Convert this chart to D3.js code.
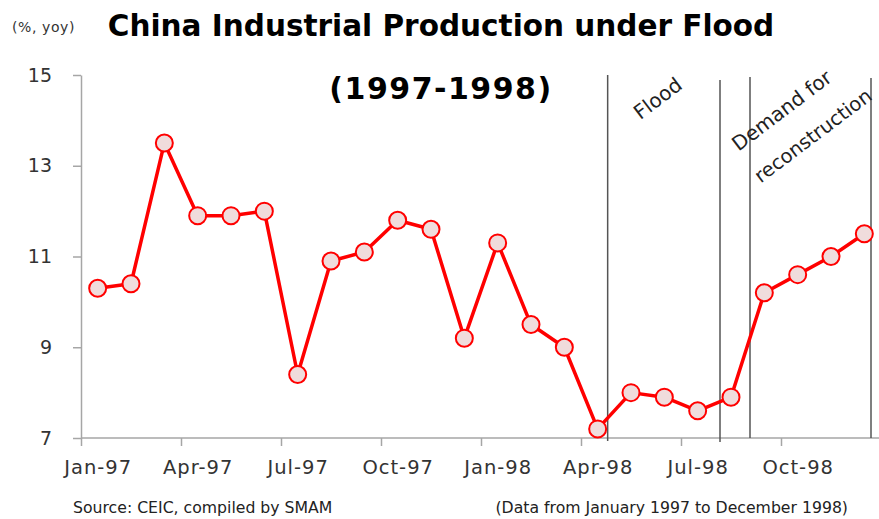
<!DOCTYPE html>
<html>
<head>
<meta charset="utf-8">
<script src="https://cdn.jsdelivr.net/npm/d3@7"></script>
<style>
  body { margin: 0; background: #fff; }
  svg { display: block; font-family: "DejaVu Sans", Verdana, sans-serif; }
</style>
</head>
<body>
<div id="chart"></div>
<script>
(function() {
  var months = ['Jan-97', 'Feb-97', 'Mar-97', 'Apr-97', 'May-97', 'Jun-97',
    'Jul-97', 'Aug-97', 'Sep-97', 'Oct-97', 'Nov-97', 'Dec-97',
    'Jan-98', 'Feb-98', 'Mar-98', 'Apr-98', 'May-98', 'Jun-98',
    'Jul-98', 'Aug-98', 'Sep-98', 'Oct-98', 'Nov-98', 'Dec-98'];
  var values = [10.3, 10.4, 13.5, 11.9, 11.9, 12.0, 8.4, 10.9, 11.1, 11.8, 11.6, 9.2,
    11.3, 9.5, 9.0, 7.2, 8.0, 7.9, 7.6, 7.9, 10.2, 10.6, 11.0, 11.5];
  var yTicks = [7, 9, 11, 13, 15];
  var xTickIdx = [0, 3, 6, 9, 12, 15, 18, 21];
  // period dividers, in month units from Jan-97
  var dividers = [15.8, 19.17, 20.07, 23.7];

  var width = 879, height = 519;
  var svg = d3.select('#chart').append('svg')
    .attr('width', width).attr('height', height);

  var x = d3.scaleLinear().domain([0, 24]).range([81, 881]);
  var y = d3.scaleLinear().domain([7, 15]).range([438, 75]);

  var axisColor = '#a6a6a6';

  // y axis
  var yAxis = svg.append('g')
    .attr('transform', 'translate(81,0)')
    .call(d3.axisLeft(y).tickValues(yTicks).tickSize(8).tickPadding(21).tickSizeOuter(0));
  yAxis.select('.domain').attr('stroke', axisColor).attr('stroke-width', 1.5);
  yAxis.selectAll('.tick line').attr('stroke', axisColor).attr('stroke-width', 1.5);
  yAxis.selectAll('.tick text')
    .attr('font-size', 19).attr('fill', '#333')
    .attr('font-family', '"DejaVu Sans", Verdana, sans-serif');

  // x axis
  var xAxis = svg.append('g')
    .attr('transform', 'translate(0,438)')
    .call(d3.axisBottom(x).tickValues(xTickIdx).tickSize(8).tickSizeOuter(0)
      .tickFormat(function(d) { return months[d]; }).tickPadding(14));
  xAxis.select('.domain').attr('stroke', axisColor).attr('stroke-width', 1.5)
    .attr('d', 'M81,0H879');
  xAxis.selectAll('.tick line').attr('stroke', axisColor).attr('stroke-width', 1.5);
  xAxis.selectAll('.tick text')
    .attr('x', x(0.5) - x(0))
    .attr('font-size', 19.5).attr('fill', '#333')
    .attr('letter-spacing', 1)
    .attr('font-family', '"DejaVu Sans", Verdana, sans-serif');

  // dividers
  svg.append('g').selectAll('line')
    .data(dividers)
    .join('line')
    .attr('x1', function(d) { return x(d); })
    .attr('x2', function(d) { return x(d); })
    .attr('y1', function(d, i) { return [75, 80, 77, 78][i]; })
    .attr('y2', function(d, i) { return [441, 442, 438, 438][i]; })
    .attr('stroke', '#555')
    .attr('stroke-width', 1.5);

  // line + markers
  var line = d3.line()
    .x(function(d, i) { return x(i + 0.5); })
    .y(function(d) { return y(d); });

  svg.append('path')
    .datum(values)
    .attr('d', line)
    .attr('fill', 'none')
    .attr('stroke', '#ff0000')
    .attr('stroke-width', 3.5)
    .attr('stroke-linejoin', 'round');

  svg.append('g').selectAll('circle')
    .data(values)
    .join('circle')
    .attr('cx', function(d, i) { return x(i + 0.5); })
    .attr('cy', function(d) { return y(d); })
    .attr('r', 8.5)
    .attr('fill', '#f0dcdc')
    .attr('stroke', '#ff0000')
    .attr('stroke-width', 2);

  // titles
  svg.append('text')
    .attr('x', 441).attr('y', 36)
    .attr('text-anchor', 'middle')
    .attr('font-size', 29.5).attr('font-weight', 'bold').attr('fill', '#000')
    .text('China Industrial Production under Flood');
  svg.append('text')
    .attr('x', 441).attr('y', 99)
    .attr('text-anchor', 'middle')
    .attr('font-size', 30).attr('font-weight', 'bold').attr('fill', '#000')
    .attr('letter-spacing', 1.5)
    .text('(1997-1998)');
  svg.append('text')
    .attr('x', 12).attr('y', 32)
    .attr('font-size', 14).attr('fill', '#333')
    .attr('letter-spacing', 0.6)
    .text('(%, yoy)');

  // annotations
  svg.append('text')
    .attr('transform', 'translate(662,104) rotate(-37)')
    .attr('text-anchor', 'middle')
    .attr('font-size', 20).attr('fill', '#222')
    .text('Flood');
  svg.append('text')
    .attr('transform', 'translate(786,116) rotate(-37)')
    .attr('text-anchor', 'middle')
    .attr('font-size', 20).attr('fill', '#222')
    .text('Demand for');
  svg.append('text')
    .attr('transform', 'translate(817,141) rotate(-37)')
    .attr('text-anchor', 'middle')
    .attr('font-size', 19.5).attr('fill', '#222')
    .text('reconstruction');

  // footer
  svg.append('text')
    .attr('x', 73).attr('y', 513)
    .attr('font-size', 15.7).attr('fill', '#222')
    .text('Source: CEIC, compiled by SMAM');
  svg.append('text')
    .attr('x', 848).attr('y', 513)
    .attr('text-anchor', 'end')
    .attr('font-size', 15.7).attr('fill', '#222')
    .text('(Data from January 1997 to December 1998)');
})();
</script>
</body>
</html>
